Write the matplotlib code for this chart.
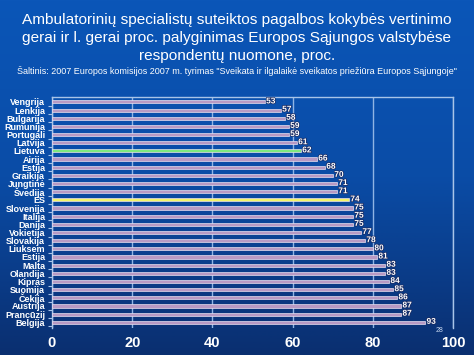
import numpy as np
import matplotlib
matplotlib.use('Agg')
import matplotlib.pyplot as plt
import matplotlib.patheffects as pe

plt.rcParams['font.family'] = ['Liberation Sans', 'DejaVu Sans']

# duomenys
countries = ['Vengrija', 'Lenkija', 'Bulgarija', 'Rumunija', 'Portugali', 'Latvija',
             'Lietuva', 'Airija', 'Estija', 'Graikija', 'Jungtinė', 'Švedija', 'ES',
             'Slovenija', 'Italija', 'Danija', 'Vokietija', 'Slovakija', 'Liuksem',
             'Estija', 'Malta', 'Olandija', 'Kipras', 'Suomija', 'Čekija', 'Austrija',
             'Prancūzij', 'Belgija']
values = [53, 57, 58, 59, 59, 61, 62, 66, 68, 70, 71, 71, 74, 75, 75, 75, 77, 78,
          80, 81, 83, 83, 84, 85, 86, 87, 87, 93]
xticks = [0, 20, 40, 60, 80, 100]

colors = []
for c in countries:
    if c == 'Lietuva':
        colors.append('#7ee87e')
    elif c == 'ES':
        colors.append('#f4f46a')
    else:
        colors.append('#b89ac4')

fig = plt.figure(figsize=(4.74, 3.55), dpi=100)

# fonas - melynas gradientas
bg = fig.add_axes([0, 0, 1, 1])
grad = np.linspace(0, 1, 256).reshape(-1, 1)
cmap = matplotlib.colors.LinearSegmentedColormap.from_list('bg', ['#0b56b8', '#0a4ca6', '#0a2f70'])
bg.imshow(grad, aspect='auto', cmap=cmap, extent=[0, 1, 0, 1])
bg.set_axis_off()

fig.text(0.5, 0.945, 'Ambulatorinių specialistų suteiktos pagalbos kokybės vertinimo',
         ha='center', va='center', color='white', fontsize=11.1)
fig.text(0.5, 0.893, 'gerai ir l. gerai proc. palyginimas Europos Sąjungos valstybėse',
         ha='center', va='center', color='white', fontsize=11.1)
fig.text(0.5, 0.842, 'respondentų nuomone, proc.',
         ha='center', va='center', color='white', fontsize=11.1)
fig.text(0.5, 0.800, 'Šaltinis: 2007 Europos komisijos 2007 m. tyrimas "Sveikata ir ilgalaikė sveikatos priežiūra Europos Sąjungoje"',
         ha='center', va='center', color='white', fontsize=6.5)

ax = fig.add_axes([52 / 474, 1 - 328 / 355, 401 / 474, 231 / 355])
ax.patch.set_alpha(0)
y = np.arange(len(countries))
ax.barh(y, values, height=0.38, color=colors, edgecolor='#e8e0f0', linewidth=0.5, zorder=3)
for yi, v in zip(y, values):
    ax.text(v + 0.4, yi, str(v), va='center', ha='left', color='white', fontsize=6,
            fontweight='bold', zorder=4,
            path_effects=[pe.withStroke(linewidth=1, foreground='#1a2a60')])

ax.set_xlim(0, 100)
ax.set_ylim(len(countries) - 0.3, -0.6)
ax.set_xticks(xticks)
ax.set_xticklabels([str(t) for t in xticks], color='white', fontsize=10.5, fontweight='bold')
ax.tick_params(axis='x', length=0, pad=6)
ax.set_yticks(y)
ax.set_yticklabels(countries, color='white', fontsize=6.5, fontweight='bold')
ax.tick_params(axis='y', length=0, pad=5)
ax.set_yticks(y + 0.5, minor=True)
ax.tick_params(axis='y', which='minor', length=3, color='#a8c4e8', width=0.8)
ax.grid(axis='x', color='#8fb4e4', linewidth=1, zorder=1)
for side in ['left', 'top', 'right']:
    ax.spines[side].set_color('#a8c4e8')
    ax.spines[side].set_linewidth(1)
ax.spines['bottom'].set_visible(False)

fig.text(440 / 474, 1 - 331 / 355, '28', color='#c8d8f0', fontsize=5, ha='center', va='center')

plt.savefig('out.png', dpi=100)
